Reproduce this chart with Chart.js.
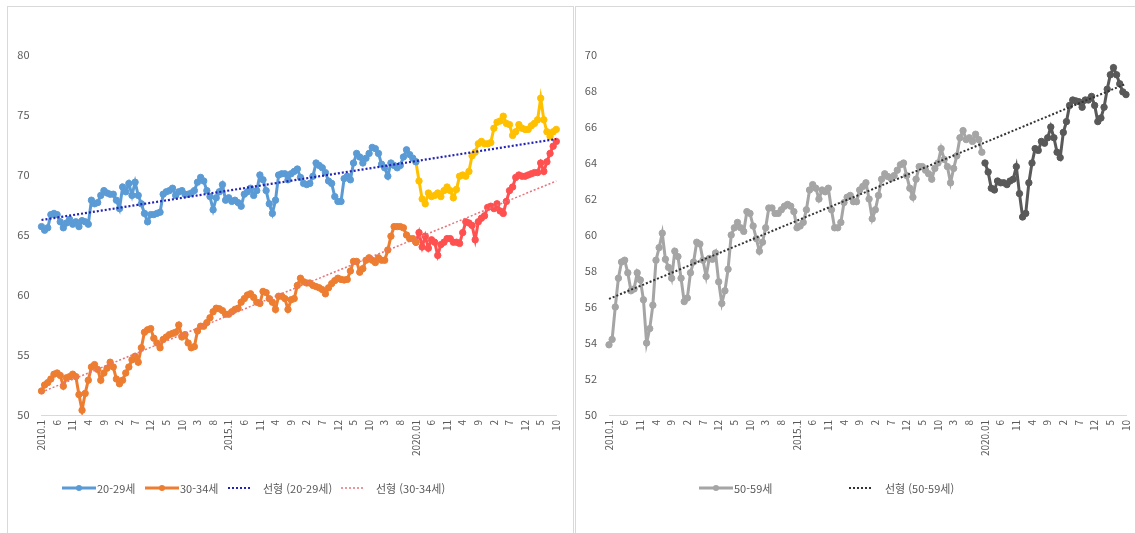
<!DOCTYPE html>
<html lang="ko">
<head>
<meta charset="utf-8">
<script src="https://cdn.jsdelivr.net/npm/chart.js@4.4.1/dist/chart.umd.min.js"></script>
<style>
  body { margin: 0; width: 1135px; height: 533px; background: #fff; position: relative; overflow: hidden;
         font-family: 'Noto Sans CJK KR', 'Noto Sans', sans-serif; }
  .panel { position: absolute; border: 1px solid #d9d9d9; box-sizing: border-box; }
  canvas { position: absolute; top: 0; }
  .lg { position: absolute; top: 481px; height: 14px; font-size: 11px; line-height: 14px; color: #595959; white-space: nowrap; }
  .lg svg { position: absolute; top: 2px; }
</style>
</head>
<body>
<div class="panel" style="left:7px; top:6px; width:567px; height:560px;"></div>
<div class="panel" style="left:575px; top:6px; width:580px; height:560px;"></div>

<canvas id="chart_young" style="left:0;"></canvas>
<canvas id="chart_senior" style="left:575px;"></canvas>

<!-- legends -->
<div class="lg" style="left:62px;"><svg width="34" height="10"><line x1="0" y1="5" x2="34" y2="5" stroke="#5b9bd5" stroke-width="3"/><circle cx="17" cy="5" r="3" fill="#5b9bd5"/></svg><span style="margin-left:35px">20-29세</span></div>
<div class="lg" style="left:145px;"><svg width="34" height="10"><line x1="0" y1="5" x2="34" y2="5" stroke="#ed7d31" stroke-width="3"/><circle cx="17" cy="5" r="3" fill="#ed7d31"/></svg><span style="margin-left:35px">30-34세</span></div>
<div class="lg" style="left:228px;"><svg width="24" height="10"><line x1="0" y1="5" x2="24" y2="5" stroke="#2323b5" stroke-width="2" stroke-dasharray="2 2"/></svg><span style="margin-left:35px">선형 (20-29세)</span></div>
<div class="lg" style="left:341px;"><svg width="24" height="10"><line x1="0" y1="5" x2="24" y2="5" stroke="#e8737a" stroke-width="1.5" stroke-dasharray="2 2"/></svg><span style="margin-left:35px">선형 (30-34세)</span></div>
<div class="lg" style="left:699px;"><svg width="34" height="10"><line x1="0" y1="5" x2="34" y2="5" stroke="#a5a5a5" stroke-width="3"/><circle cx="17" cy="5" r="3" fill="#a5a5a5"/></svg><span style="margin-left:35px">50-59세</span></div>
<div class="lg" style="left:849px;"><svg width="24" height="10"><line x1="0" y1="5" x2="24" y2="5" stroke="#333333" stroke-width="2" stroke-dasharray="2 2"/></svg><span style="margin-left:36px">선형 (50-59세)</span></div>

<script>
// monthly categories 2010.1 .. 2023.10
const months = []
for (let y = 2010; y <= 2023; y++) {
    for (let m = 1; m <= 12; m++) months.push(`${y}.${m}`)
}
months.length = 166

// x tick labels, one every 5 months
const tickLabels = [
    '2010.1', '6', '11', '4', '9', '2', '7', '12', '5', '10', '3', '8',
    '2015.1', '6', '11', '4', '9', '2', '7', '12', '5', '10', '3', '8',
    '2020.01', '6', '11', '4', '9', '2', '7', '12', '5', '10'
]

// 20-29세, 2010.1 - 2020.1
const age2029 = [
    65.7, 65.4, 65.6, 66.7, 66.8, 66.7, 66.1, 65.6, 66.0, 66.3,
    65.9, 66.1, 65.7, 66.2, 66.1, 65.9, 67.9, 67.6, 67.7, 68.3,
    68.7, 68.5, 68.4, 68.4, 67.9, 67.2, 69.0, 68.6, 69.3, 68.3,
    69.4, 68.3, 67.6, 66.8, 66.1, 66.7, 66.7, 66.8, 66.9, 68.4,
    68.6, 68.7, 68.9, 68.3, 68.6, 68.7, 68.4, 68.4, 68.5, 68.7,
    69.4, 69.8, 69.5, 68.7, 68.2, 67.1, 68.1, 68.6, 69.2, 67.9,
    68.1, 67.8, 67.9, 67.7, 67.4, 68.4, 68.6, 68.9, 68.3, 68.7,
    70.0, 69.6, 68.7, 67.6, 66.8, 67.9, 70.0, 70.1, 70.1, 69.6,
    70.1, 70.3, 70.5, 69.8, 69.3, 69.2, 69.3, 69.9, 71.0, 70.8,
    70.6, 70.2, 69.5, 69.3, 68.2, 67.8, 67.8, 69.7, 69.9, 69.6,
    71.0, 71.8, 71.5, 71.0, 71.4, 71.8, 72.3, 72.2, 71.8, 70.9,
    70.6, 69.9, 71.0, 70.8, 70.6, 70.8, 71.5, 72.1, 71.7, 71.4,
    71.1
]
// 20-29세, 2020.1 - 2023.10
const age2029Recent = [
    71.1, 69.5, 68.0, 67.6, 68.5, 68.2, 68.3, 68.5, 68.2, 68.7,
    69.0, 68.7, 68.1, 68.8, 69.9, 70.0, 69.9, 70.3, 71.6, 71.9,
    72.6, 72.8, 72.6, 72.6, 72.7, 73.9, 74.4, 74.5, 74.9, 74.3,
    74.2, 73.3, 73.6, 74.2, 73.9, 73.8, 73.8, 74.1, 74.3, 74.6,
    76.4, 74.6, 73.6, 73.2, 73.6, 73.8
]

// 30-34세, 2010.1 - 2020.1
const age3034 = [
    52.0, 52.5, 52.7, 53.0, 53.4, 53.5, 53.3, 52.4, 53.1, 53.2,
    53.4, 53.2, 51.7, 50.4, 51.8, 52.9, 54.0, 54.2, 53.8, 52.9,
    53.5, 53.9, 54.4, 54.0, 53.0, 52.6, 52.9, 53.5, 54.0, 54.6,
    54.9, 54.4, 55.6, 56.9, 57.1, 57.2, 56.4, 56.0, 55.6, 56.3,
    56.5, 56.7, 56.8, 56.9, 57.5, 56.5, 56.7, 56.0, 55.6, 55.7,
    57.0, 57.4, 57.4, 57.7, 58.1, 58.6, 58.9, 58.85, 58.7, 58.4,
    58.4, 58.6, 58.8, 58.9, 59.4, 59.7, 60.0, 60.1, 59.8, 59.4,
    59.3, 60.3, 60.2, 59.7, 59.4, 58.8, 59.9, 59.9, 59.7, 58.8,
    59.6, 59.7, 60.8, 61.4, 61.1, 61.0, 61.0, 60.8, 60.7, 60.6,
    60.45, 60.1, 60.6, 60.95, 61.2, 61.4, 61.3, 61.25, 61.3, 62.0,
    62.8, 62.8, 61.9, 62.2, 62.9, 63.1, 62.9, 62.7, 63.1, 62.9,
    62.9, 63.75, 64.9, 65.7, 65.7, 65.7, 65.6, 65.0, 64.7, 64.7,
    64.4
]
// 30-34세, 2020.1 - 2023.10
const age3034Recent = [
    64.4, 65.2, 64.0, 64.9, 63.9, 64.6, 64.4, 63.3, 64.2, 64.4,
    64.7, 64.7, 64.4, 64.4, 64.3, 65.2, 66.1, 66.0, 65.8, 64.6,
    66.1, 66.4, 66.6, 67.3, 67.4, 67.2, 67.6, 67.0, 66.8, 67.8,
    68.7, 69.0, 69.8, 70.0, 69.9, 69.9, 70.0, 70.1, 70.2, 70.2,
    71.0, 70.3, 71.1, 71.8, 72.4, 72.8
]

// 50-59세, 2010.1 - 2019.12
const age5059 = [
    53.9, 54.2, 56.0, 57.6, 58.5, 58.6, 57.9, 56.9, 57.0, 57.9,
    57.5, 56.4, 54.0, 54.8, 56.1, 58.6, 59.3, 60.1, 58.65, 58.2,
    57.6, 59.1, 58.8, 57.6, 56.3, 56.5, 57.9, 58.5, 59.6, 59.5,
    58.6, 57.7, 58.7, 58.65, 59.0, 57.4, 56.2, 56.9, 58.1, 60.0,
    60.4, 60.7, 60.4, 60.2, 61.3, 61.2, 60.5, 59.8, 59.1, 59.6,
    60.4, 61.5, 61.5, 61.2, 61.2, 61.4, 61.6, 61.7, 61.6, 61.3,
    60.4, 60.5, 60.7, 61.4, 62.5, 62.8, 62.6, 62.0, 62.5, 62.4,
    62.6, 61.4, 60.4, 60.4, 60.7, 61.8, 62.1, 62.2, 61.85, 61.85,
    62.5, 62.7, 62.9, 62.0, 60.9, 61.4, 62.2, 63.1, 63.4, 63.25,
    63.15, 63.3, 63.6, 63.9, 64.0, 63.3, 62.6, 62.1, 63.1, 63.8,
    63.8, 63.6, 63.4, 63.1, 63.7, 64.0, 64.8, 64.2, 63.8, 62.9,
    63.7, 64.4, 65.4, 65.8, 65.3, 65.4, 65.2, 65.6, 65.3, 64.6
]
// 50-59세, 2020.1 - 2023.10
const age5059Recent = [
    64.0, 63.5, 62.6, 62.5, 63.0, 62.9, 62.9, 62.8, 63.0, 63.1,
    63.8, 62.3, 61.0, 61.2, 62.9, 64.0, 64.8, 64.7, 65.2, 65.1,
    65.4, 66.0, 65.4, 64.6, 64.3, 65.7, 66.3, 67.2, 67.5, 67.45,
    67.4, 67.1, 67.5, 67.5, 67.7, 67.2, 66.3, 66.5, 67.1, 68.1,
    68.9, 69.3, 68.9, 68.4, 67.95, 67.8
]

// linear trend lines (start, end)
const trend2029 = [66.25, 73.0]
const trend3034 = [51.9, 69.5]
const trend5059 = [56.45, 68.4]

const FONT = "'Noto Sans CJK KR', 'Noto Sans', sans-serif"

const pad = (values, start) => Array(start).fill(null).concat(values)

const seriesLine = (data, color) => ({
    data: data,
    borderColor: color,
    backgroundColor: color,
    borderWidth: 3,
    pointRadius: 3.2,
    pointBorderWidth: 1,
    pointBackgroundColor: color,
    pointBorderColor: color,
    tension: 0,
    order: 1
})

const trendLine = (trend, color, width) => ({
    data: [{ x: months[0], y: trend[0] }, { x: months[months.length - 1], y: trend[1] }],
    borderColor: color,
    borderWidth: width,
    borderDash: [2, 2],
    borderCapStyle: 'butt',
    pointRadius: 0,
    order: 0
})

const makeOptions = (yMin, yMax, step, rightPad, yWidth) => ({
    responsive: false,
    animation: false,
    events: [],
    layout: { padding: { top: 55, right: rightPad, left: 0, bottom: 0 } },
    plugins: { legend: { display: false }, tooltip: { enabled: false } },
    scales: {
        x: {
            type: 'category',
            offset: false,
            grid: { display: false, drawTicks: false },
            border: { display: true, color: '#d9d9d9', width: 1 },
            ticks: {
                autoSkip: false,
                minRotation: 90,
                maxRotation: 90,
                padding: 5,
                color: '#595959',
                font: { family: FONT, size: 10 },
                callback: (value, index) => index % 5 === 0 ? tickLabels[index / 5] : null
            },
            afterFit: scale => { scale.height = 118 }
        },
        y: {
            min: yMin,
            max: yMax,
            grid: { display: false, drawTicks: false },
            border: { display: false },
            ticks: {
                stepSize: step,
                padding: 12,
                color: '#595959',
                font: { family: FONT, size: 11 }
            },
            afterFit: scale => { scale.width = yWidth }
        }
    }
})

const setupCanvas = (id, w, h) => {
    const c = document.getElementById(id)
    c.width = w
    c.height = h
    c.style.width = w + 'px'
    c.style.height = h + 'px'
    return c.getContext('2d')
}

new Chart(setupCanvas('chart_young', 574, 533), {
    type: 'line',
    data: {
        labels: months,
        datasets: [
            trendLine(trend2029, '#2323b5', 2.2),
            trendLine(trend3034, '#e8737a', 1.5),
            seriesLine(age2029, '#5b9bd5'),
            seriesLine(pad(age2029Recent, 120), '#ffc000'),
            seriesLine(age3034, '#ed7d31'),
            seriesLine(pad(age3034Recent, 120), '#ff5050')
        ]
    },
    options: makeOptions(50, 80, 5, 17.7, 41.5)
})

// wider than the window on purpose: the right label padding is then cut off
new Chart(setupCanvas('chart_senior', 568, 533), {
    type: 'line',
    data: {
        labels: months,
        datasets: [
            trendLine(trend5059, '#333333', 2),
            seriesLine(age5059, '#a5a5a5'),
            seriesLine(pad(age5059Recent, 120), '#595959')
        ]
    },
    options: makeOptions(50, 70, 2, 17, 34)
})
</script>
</body>
</html>
